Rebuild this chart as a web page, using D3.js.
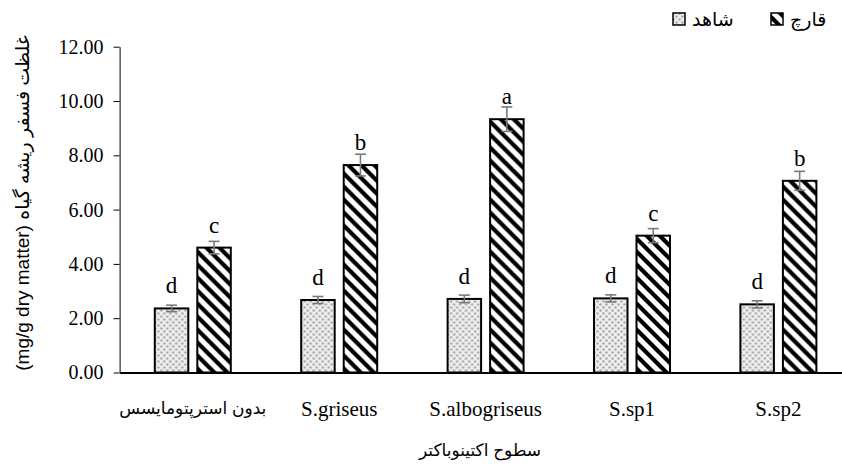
<!DOCTYPE html>
<html>
<head>
<meta charset="utf-8">
<script src="https://cdn.jsdelivr.net/npm/d3@7"></script>
<style>
  html, body { margin: 0; padding: 0; background: #fff; }
  svg { display: block; }
</style>
</head>
<body>
<svg id="chart" width="842" height="468"></svg>
<script>
const categories = ["بدون استرپتومایسس", "S.griseus", "S.albogriseus", "S.sp1", "S.sp2"];
const seriesNames = ["شاهد", "قارچ"];
const controlValues = [2.36, 2.67, 2.71, 2.73, 2.51];
const fungusValues = [4.60, 7.64, 9.33, 5.04, 7.06];
const controlErrors = [0.12, 0.13, 0.14, 0.13, 0.13];
const fungusErrors = [0.23, 0.40, 0.45, 0.26, 0.35];
const controlLetters = ["d", "d", "d", "d", "d"];
const fungusLetters = ["c", "b", "a", "c", "b"];
const yTicks = [0, 2, 4, 6, 8, 10, 12];
const yTitleUnit = "(mg/g dry matter)";
const yTitleText = "غلظت فسفر ریشه گیاه";
const xTitle = "سطوح اکتینوباکتر";

const serif = "'Liberation Serif', 'Times New Roman', serif";
const sans = "'Liberation Sans', 'DejaVu Sans', sans-serif";

const svg = d3.select("#chart");
const defs = svg.append("defs");

// Dotted pattern (control)
const pd = defs.append("pattern").attr("id", "dots").attr("patternUnits", "userSpaceOnUse")
  .attr("width", 6).attr("height", 6);
pd.append("rect").attr("width", 6).attr("height", 6).attr("fill", "#efefef");
pd.append("circle").attr("cx", 1.5).attr("cy", 1.5).attr("r", 1.3).attr("fill", "#aaaaaa");
pd.append("circle").attr("cx", 4.5).attr("cy", 4.5).attr("r", 1.3).attr("fill", "#aaaaaa");

// Wide downward diagonal (fungus)
const ps = defs.append("pattern").attr("id", "stripes").attr("patternUnits", "userSpaceOnUse")
  .attr("width", 13).attr("height", 13);
ps.append("rect").attr("width", 13).attr("height", 13).attr("fill", "#fff");
ps.append("path").attr("d", "M-3,-3L16,16M-3,10L3,16M10,-3L16,3")
  .attr("stroke", "#000").attr("stroke-width", 4.2);

const fills = ["url(#dots)", "url(#stripes)"];

const x = d3.scaleBand().domain(categories).range([119.6, 851.6]).paddingInner(0).paddingOuter(0);
const xSub = d3.scaleBand().domain(seriesNames).range([-38, 38]).paddingInner(0.212).paddingOuter(0);
const y = d3.scaleLinear().domain([0, 12]).range([372.5, 46.7]);

// Y axis
const yAxis = svg.append("g").attr("transform", "translate(119.6,0)")
  .call(d3.axisLeft(y).tickValues(yTicks).tickFormat(d3.format(".2f")).tickSizeOuter(0).tickSizeInner(6).tickPadding(10));
yAxis.select(".domain").attr("stroke", "#000").attr("stroke-width", 1);
yAxis.selectAll(".tick line").attr("stroke", "#000");
yAxis.selectAll("text").attr("font-family", serif).attr("font-size", 20).attr("fill", "#000");

// Data rows
const rows = categories.map((c, i) => ({
  cat: c,
  vals: [
    { s: seriesNames[0], v: controlValues[i], e: controlErrors[i], l: controlLetters[i], k: 0 },
    { s: seriesNames[1], v: fungusValues[i], e: fungusErrors[i], l: fungusLetters[i], k: 1 }
  ]
}));

const groups = svg.append("g").selectAll("g").data(rows).join("g")
  .attr("transform", d => `translate(${x(d.cat) + x.bandwidth() / 2},0)`);

groups.selectAll("rect").data(d => d.vals).join("rect")
  .attr("x", d => xSub(d.s))
  .attr("y", d => y(d.v))
  .attr("width", xSub.bandwidth())
  .attr("height", d => y(0) - y(d.v))
  .attr("fill", d => fills[d.k])
  .attr("stroke", "#000").attr("stroke-width", 2);

// Error bars
const eb = groups.selectAll("g.err").data(d => d.vals).join("g").attr("class", "err")
  .attr("stroke", "#7a7a7a").attr("stroke-width", 1.6);
eb.append("line")
  .attr("x1", d => xSub(d.s) + xSub.bandwidth() / 2).attr("x2", d => xSub(d.s) + xSub.bandwidth() / 2)
  .attr("y1", d => y(d.v + d.e)).attr("y2", d => y(d.v - d.e));
eb.append("line")
  .attr("x1", d => xSub(d.s) + xSub.bandwidth() / 2 - 5.5).attr("x2", d => xSub(d.s) + xSub.bandwidth() / 2 + 5.5)
  .attr("y1", d => y(d.v + d.e)).attr("y2", d => y(d.v + d.e));
eb.append("line")
  .attr("x1", d => xSub(d.s) + xSub.bandwidth() / 2 - 5.5).attr("x2", d => xSub(d.s) + xSub.bandwidth() / 2 + 5.5)
  .attr("y1", d => y(d.v - d.e)).attr("y2", d => y(d.v - d.e));

// Letters
groups.selectAll("text.lbl").data(d => d.vals).join("text").attr("class", "lbl")
  .attr("x", d => xSub(d.s) + xSub.bandwidth() / 2)
  .attr("y", d => y(d.v) - 15)
  .attr("text-anchor", "middle")
  .attr("font-family", serif).attr("font-size", 23).attr("fill", "#000")
  .text(d => d.l);

// X axis
const xAxis = svg.append("g").attr("transform", `translate(0,${y(0)})`)
  .call(d3.axisBottom(x).tickSize(0).tickPadding(29));
xAxis.select(".domain").attr("stroke", "#000").attr("stroke-width", 2);
xAxis.selectAll("text").attr("font-family", (d) => /[A-Za-z]/.test(d) ? serif : sans)
  .attr("font-size", (d) => /[A-Za-z]/.test(d) ? 21 : 17).attr("fill", "#000");

// Axis titles
svg.append("text").attr("x", 480).attr("y", 456).attr("text-anchor", "middle")
  .attr("font-family", sans).attr("font-size", 17).attr("fill", "#000").text(xTitle);
const yt = svg.append("text").attr("transform", "translate(29,203) rotate(-90)").attr("text-anchor", "middle")
  .attr("font-family", sans).attr("fill", "#000");
yt.append("tspan").attr("font-size", 19).text(yTitleUnit + " ");
yt.append("tspan").attr("font-size", 19).text(yTitleText);

// Legend
const legendPos = [{ bx: 673, tx: 692 }, { bx: 771, tx: 790 }];
const lg = svg.append("g").selectAll("g").data(seriesNames).join("g");
lg.append("rect").attr("x", (d, i) => legendPos[i].bx).attr("y", 13).attr("width", 12).attr("height", 12)
  .attr("fill", (d, i) => fills[i]).attr("stroke", "#000").attr("stroke-width", 1.5);
lg.append("text").attr("x", (d, i) => legendPos[i].tx).attr("y", 26)
  .attr("font-family", sans).attr("font-size", 19).attr("fill", "#000").text(d => d);
</script>
</body>
</html>
